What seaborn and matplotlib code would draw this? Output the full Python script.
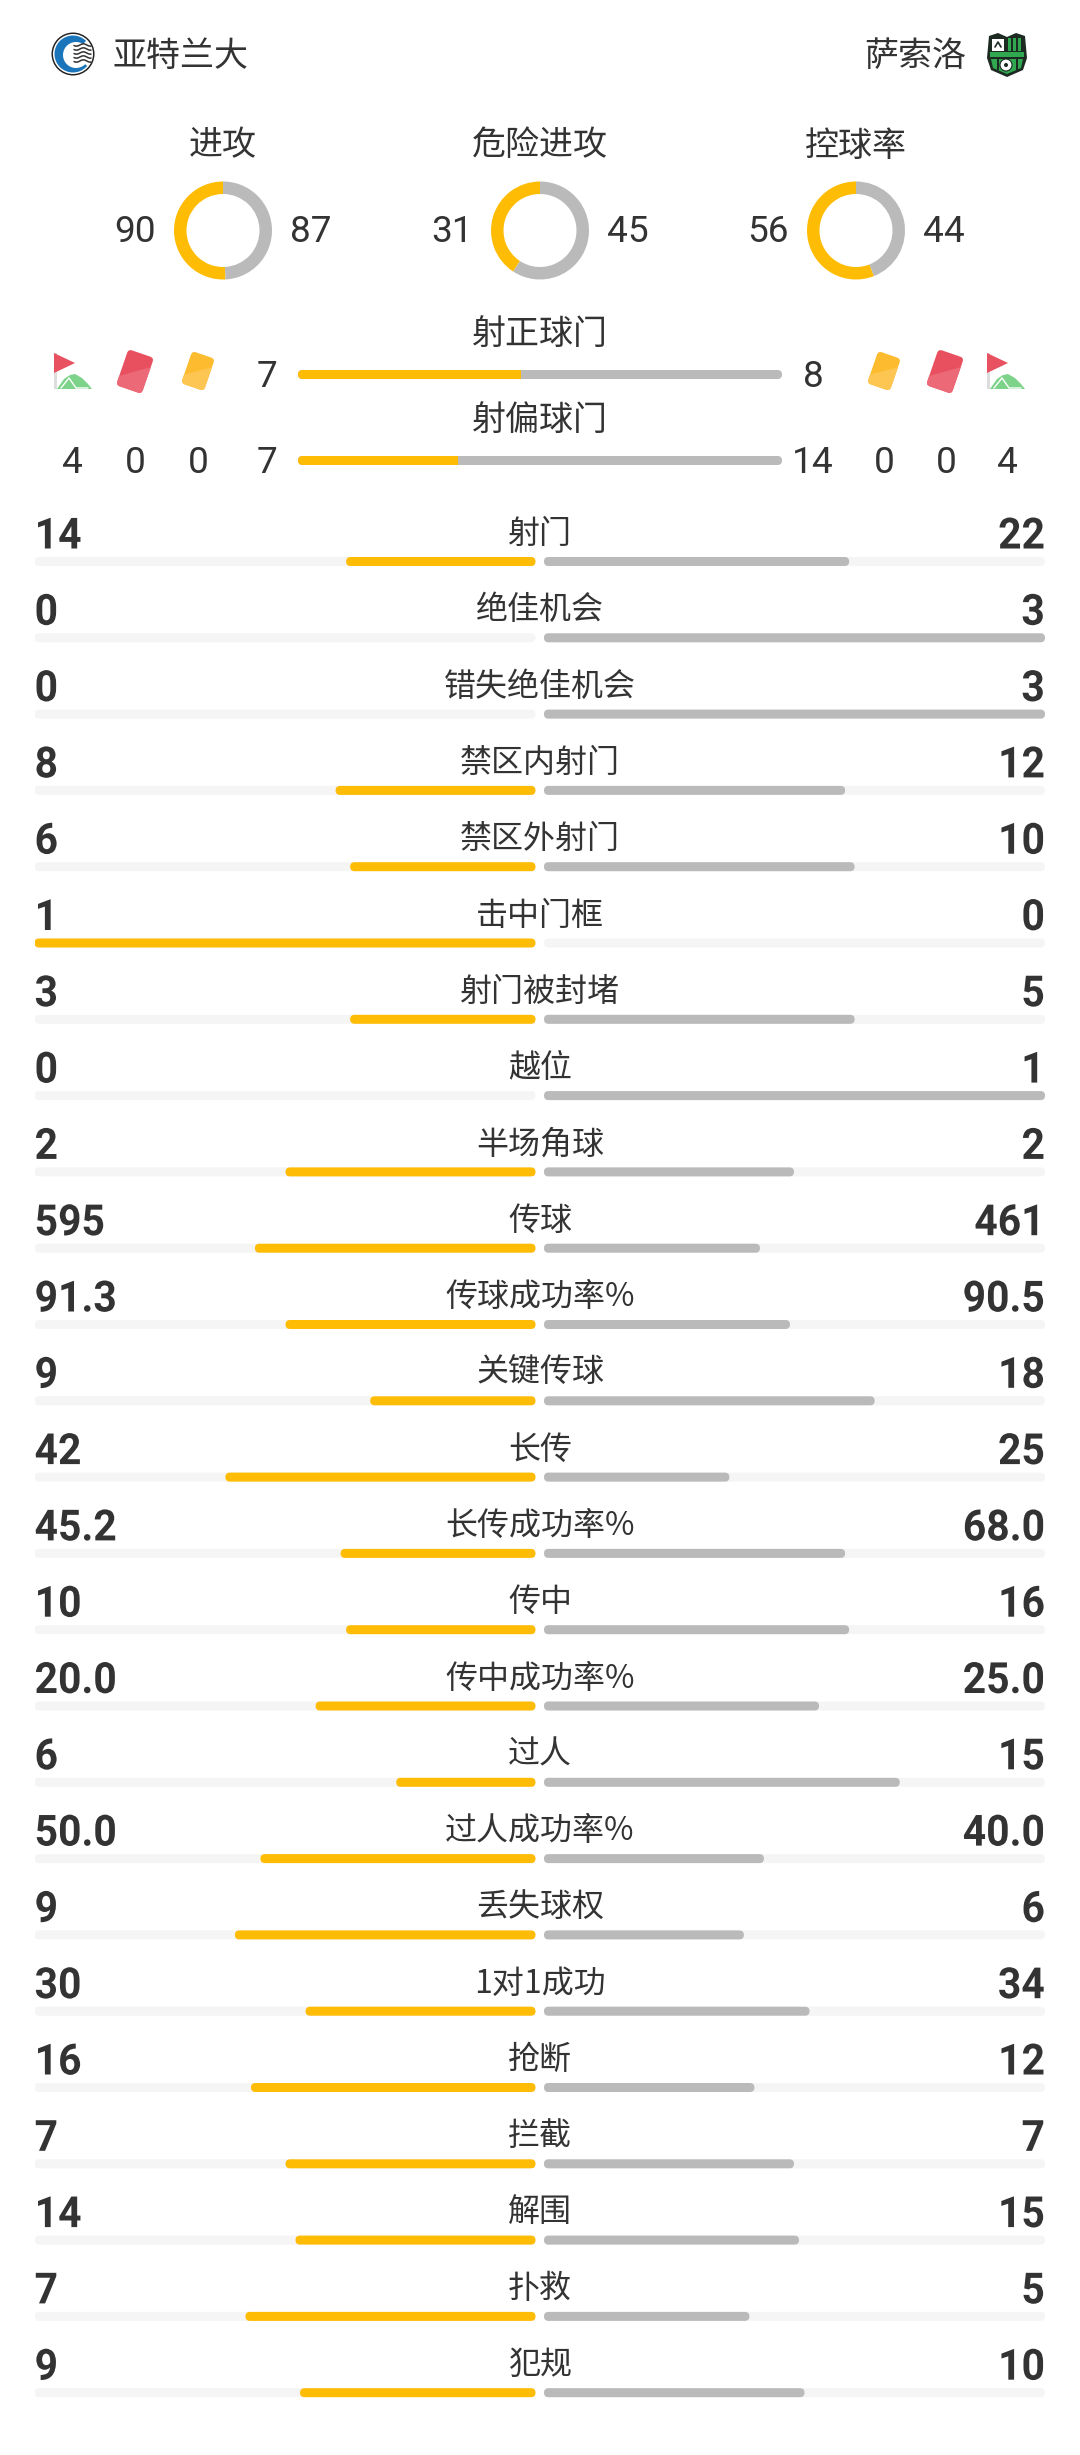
import numpy as np
import pandas as pd
import matplotlib
matplotlib.use("Agg")
import matplotlib.pyplot as plt
import seaborn as sns
from matplotlib.patches import Circle, FancyBboxPatch, Polygon, Rectangle, Wedge
from matplotlib.patheffects import AbstractPathEffect
from matplotlib.transforms import Affine2D

# Match data
home_team = "亚特兰大"
away_team = "萨索洛"

donut_labels = ["进攻", "危险进攻", "控球率"]
donut_home = [90, 31, 56]
donut_away = [87, 45, 44]

shot_labels = ["射正球门", "射偏球门"]
shot_home = [7, 7]
shot_away = [8, 14]
shot_home_share = [46, 33]  # yellow part of the top bars

corners = [4, 4]
reds = [0, 0]
yellows = [0, 0]

stat_labels = ["射门", "绝佳机会", "错失绝佳机会", "禁区内射门", "禁区外射门", "击中门框", "射门被封堵",
               "越位", "半场角球", "传球", "传球成功率%", "关键传球", "长传", "长传成功率%", "传中",
               "传中成功率%", "过人", "过人成功率%", "丢失球权", "1对1成功", "抢断", "拦截", "解围",
               "扑救", "犯规"]
stat_home = ["14", "0", "0", "8", "6", "1", "3", "0", "2", "595", "91.3", "9", "42", "45.2", "10",
             "20.0", "6", "50.0", "9", "30", "16", "7", "14", "7", "9"]
stat_away = ["22", "3", "3", "12", "10", "0", "5", "1", "2", "461", "90.5", "18", "25", "68.0", "16",
             "25.0", "15", "40.0", "6", "34", "12", "7", "15", "5", "10"]
# bar lengths in percent of the track
home_share = [37.8, 0, 0, 39.9, 37.0, 100, 37.0, 0, 49.9, 56.0, 49.9, 33.0, 61.9, 38.9, 37.8,
              43.9, 27.8, 54.9, 60.0, 45.9, 56.8, 49.9, 47.9, 57.9, 47.0]
away_share = [60.9, 100, 100, 60.1, 62.0, 0, 62.0, 100, 49.9, 43.1, 49.1, 66.0, 37.0, 60.1, 60.9,
              54.9, 71.0, 43.9, 39.9, 53.0, 42.0, 49.9, 50.9, 41.0, 52.0]

YELLOW = "#ffbc05"
GREY = "#bababa"
TRACK = "#f5f5f5"
TEXT = "#333333"
W, H = 1080, 2455

sns.set_style("white")
plt.rcParams["font.family"] = ["Noto Sans CJK SC", "DejaVu Sans"]
NUM_FONT = ["Roboto", "DejaVu Sans"]

fig = plt.figure(figsize=(W / 100, H / 100), dpi=100, facecolor="white")


class Squeeze(AbstractPathEffect):
    # the reference digits are a little narrower than Roboto
    def __init__(self, sx, side):
        super().__init__()
        self.sx = sx
        self.side = side

    def draw_path(self, renderer, gc, tpath, affine, rgbFace=None):
        box = tpath.get_extents()
        anchor = box.x0 if self.side == "left" else box.x1
        squeeze = Affine2D().translate(-anchor, 0).scale(self.sx, 1).translate(anchor, 0)
        renderer.draw_path(gc, tpath, squeeze + affine, rgbFace)


def px_axes(x0, y0, w, h):
    return fig.add_axes([x0 / W, 1 - (y0 + h) / H, w / W, h / H])


def round_bars(ax, x_px, y_px, radius=4.5):
    # swap the square seaborn bars for rounded ones of the same size
    for bar in list(ax.patches):
        if bar.get_width() > 0:
            r = radius / x_px
            ax.add_patch(FancyBboxPatch((bar.get_x(), bar.get_y()), bar.get_width(), bar.get_height(),
                                        boxstyle=f"round,pad=0,rounding_size={r}",
                                        mutation_aspect=x_px / y_px,
                                        fc=bar.get_facecolor(), ec="none"))
        bar.remove()


def stat_panel(x0, shares, color, flip):
    pitch = 76.3
    ax = px_axes(x0, 561.5 - pitch / 2, 501, pitch * 25)
    df = pd.DataFrame({"label": stat_labels, "track": [100] * 25, "share": shares})
    sns.barplot(data=df, x="track", y="label", color=TRACK, saturation=1, width=9 / pitch,
                linewidth=0, ax=ax)
    sns.barplot(data=df, x="share", y="label", color=color, saturation=1, width=9 / pitch,
                linewidth=0, ax=ax)
    ax.set_xlim(100, 0) if flip else ax.set_xlim(0, 100)
    ax.set_ylim(24.5, -0.5)
    ax.axis("off")
    round_bars(ax, 5.01, pitch)


stat_panel(34.5, home_share, YELLOW, True)
stat_panel(544, away_share, GREY, False)

# the two bars at the top share one rounded track
shot_ax = px_axes(298, 331.5, 484, 172)
shot_df = pd.DataFrame({"label": shot_labels, "track": [100, 100], "share": shot_home_share})
sns.barplot(data=shot_df, x="track", y="label", color=GREY, saturation=1, width=9 / 86, linewidth=0, ax=shot_ax)
sns.barplot(data=shot_df, x="share", y="label", color=YELLOW, saturation=1, width=9 / 86, linewidth=0, ax=shot_ax)
shot_ax.set_xlim(0, 100)
shot_ax.set_ylim(1.5, -0.5)
shot_ax.axis("off")
for bar, row in zip(shot_ax.patches, [0, 1, 0, 1]):
    clip = FancyBboxPatch((0, row - 4.5 / 86), 100, 9 / 86, boxstyle=f"round,pad=0,rounding_size={4.5 / 4.84}",
                          mutation_aspect=4.84 / 86, transform=shot_ax.transData)
    bar.set_clip_path(clip)

# donuts
donut_x = [223, 540, 856]
for cx, home, away in zip(donut_x, donut_home, donut_away):
    ax = px_axes(cx - 50, 230.5 - 50, 100, 100)
    ax.pie([home, away], colors=[YELLOW, GREY], startangle=90, radius=1,
           wedgeprops={"width": 12.5 / 49, "linewidth": 0})
    ax.set_xlim(-50 / 49, 50 / 49)
    ax.set_ylim(-50 / 49, 50 / 49)

# everything else lives on a full size overlay in pixel coordinates
over = fig.add_axes([0, 0, 1, 1], facecolor="none")
over.set_xlim(0, W)
over.set_ylim(H, 0)
over.axis("off")


def add_text(x, y, s, size, ha="center"):
    over.text(x, y, s, fontsize=size * 0.72, ha=ha, va="baseline", color=TEXT)


def add_num(x, y, s, size, ha="center", weight="normal"):
    t = over.text(x, y, s, fontsize=size * 0.72, ha=ha, va="baseline", color=TEXT,
                  family=NUM_FONT, fontweight=weight)
    if weight == "bold":
        t.set_path_effects([Squeeze(0.95, ha)])


add_text(113, 66, home_team, 34, ha="left")
add_text(966, 66, away_team, 34, ha="right")

for cx, label, home, away in zip(donut_x, donut_labels, donut_home, donut_away):
    add_text(cx, 155.5, label, 34)
    add_num(cx - 88, 242, str(home), 37)
    add_num(cx + 88, 242, str(away), 37)

for y, label in zip([343.5, 429.5], shot_labels):
    add_text(540, y, label, 34)
for y, home, away in zip([387, 473], shot_home, shot_away):
    add_num(266.5, y, str(home), 37)
    add_num(813, y, str(away), 37)

for x, val in zip([72, 135, 198], [corners[0], reds[0], yellows[0]]):
    add_num(x, 473, str(val), 37)
for x, val in zip([884, 946, 1007], [yellows[1], reds[1], corners[1]]):
    add_num(x, 473, str(val), 37)

for i, label in enumerate(stat_labels):
    bar_y = 561.5 + i * 76.3
    add_text(540, bar_y - 18.5, label, 32)
    add_num(34.5, bar_y - 13, stat_home[i], 43, ha="left", weight="bold")
    add_num(1045, bar_y - 13, stat_away[i], 43, ha="right", weight="bold")


def draw_flag(x):
    over.add_patch(Rectangle((x, 353), 3, 36, fc="#dddddd", ec="none"))
    over.add_patch(Polygon([(x, 353), (x + 21, 363), (x, 373)], fc="#e8515f", ec="none"))
    over.add_patch(Polygon([(x + 3, 389), (x + 10, 379), (x + 16, 375), (x + 21, 374), (x + 28, 378),
                            (x + 34, 384), (x + 38, 389)], fc="#7dd38a", ec="none"))
    over.plot([x + 7, x + 15, x + 22, x + 34], [388, 378, 388, 388], color="white", lw=1)


def draw_card(cx, cy, w, h, color, light):
    rot = Affine2D().rotate_deg_around(cx, cy, 19) + over.transData
    card = FancyBboxPatch((cx - w / 2 + 4, cy - h / 2 + 4), w - 8, h - 8, boxstyle="round,pad=4,rounding_size=4",
                          fc=color, ec="none", transform=rot)
    over.add_patch(card)
    shade = Polygon([(cx + w / 2 + 5, cy - h / 3), (cx + w / 2 + 5, cy + h), (cx - w, cy + h), (cx - w / 2 - 5, cy + h / 3)],
                    fc=light, ec="none", transform=rot)
    over.add_patch(shade)
    shade.set_clip_path(card)


for fx in [54, 987]:
    draw_flag(fx)
for cx in [135, 945]:
    draw_card(cx, 371.5, 27, 38, "#e84f5f", "#ec6a78")
for cx in [198, 884]:
    draw_card(cx, 371, 24, 34, "#fdbb2f", "#fdc652")

# Atalanta crest
cx, cy = 73, 54
over.add_patch(Circle((cx, cy), 21.5, fc="#222222", ec="none"))
over.add_patch(Circle((cx, cy), 20, fc="white", ec="none"))
over.add_patch(Circle((cx, cy), 18.5, fc="#1b75bb", ec="none"))
over.add_patch(Circle((cx + 3, cy + 1), 13, fc="white", ec="none"))
over.add_patch(Wedge((cx, cy), 19, -45, 40, fc="white", ec="none"))
for dy in [-9, -5, -1, 3, 7]:
    xs = np.linspace(cx + 1, cx + 18, 12)
    over.plot(xs, cy + dy + 1.2 * np.sin((xs - cx) / 2.2), color="#333333", lw=1.1, solid_capstyle="round")

# Sassuolo crest
sx = 1007
dark = "#1c2a22"
green = "#2fa84f"
over.add_patch(Polygon([(sx - 18, 36), (sx - 9, 33), (sx, 37), (sx + 9, 33), (sx + 18, 36), (sx + 20, 58), (sx + 16, 70),
                        (sx, 77), (sx - 16, 70), (sx - 20, 58)], fc=dark, ec="none"))
over.add_patch(Rectangle((sx - 15, 39), 12, 12, fc="white", ec="none"))
over.plot([sx - 12, sx - 9, sx - 6], [47, 42, 47], color=dark, lw=1.2)
for off in [0, 5, 10]:
    over.add_patch(Rectangle((sx + 1 + off, 38), 3, 13, fc=green, ec="none"))
over.add_patch(Rectangle((sx - 17, 52), 34, 5, fc=green, ec="none"))
over.add_patch(Polygon([(sx - 16, 59), (sx + 16, 59), (sx + 14, 68), (sx, 74), (sx - 14, 68)], fc=green, ec="none"))
for off in [-10, 9]:
    over.add_patch(Rectangle((sx + off, 59), 2, 11, fc=dark, ec="none"))
over.add_patch(Circle((sx - 1, 65), 6, fc="white", ec=dark, lw=0.8))
over.add_patch(Circle((sx - 1, 65), 2, fc=dark, ec="none"))

fig.savefig("out.png", dpi=100, facecolor="white")
